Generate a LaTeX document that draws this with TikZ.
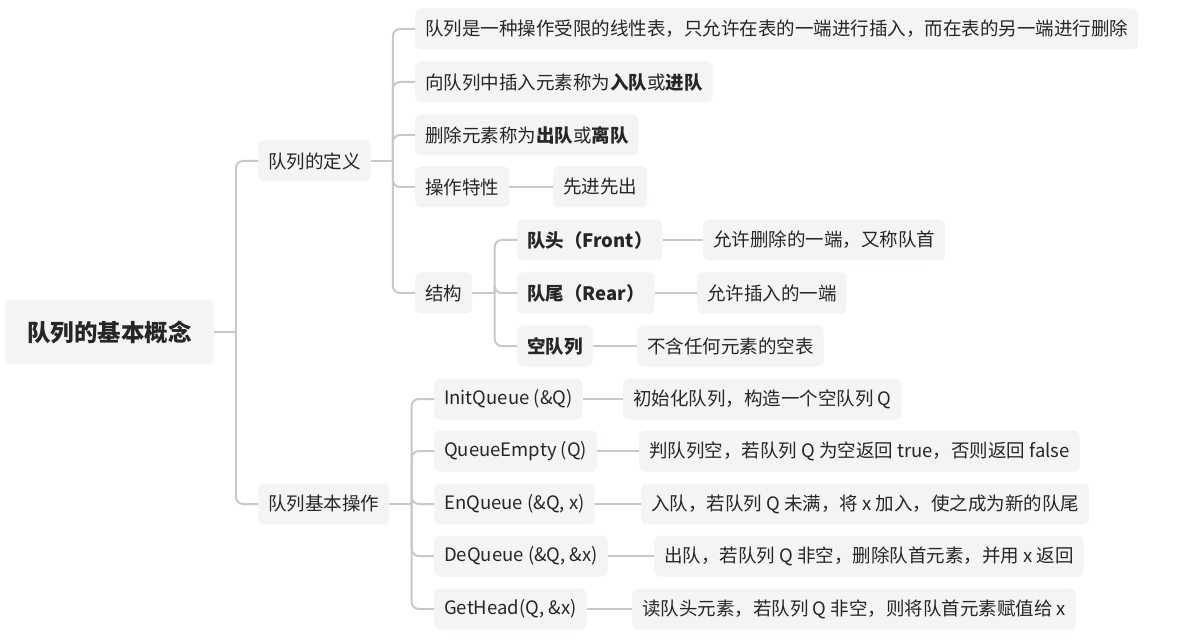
\documentclass[tikz,border=0pt]{standalone}
\usepackage{fontspec}
\setmainfont{Noto Sans CJK SC}
\usepackage{tikz}
\usetikzlibrary{calc}
\usetikzlibrary{positioning}

\definecolor{boxgray}{RGB}{243,244,246}
\definecolor{linegray}{RGB}{200,200,200}
\definecolor{inkgray}{RGB}{38,38,38}

\begin{document}
\begin{tikzpicture}[
			x=1pt, y=-1pt,
			every node/.style={
					fill=boxgray,
					text=inkgray,
					rounded corners=6pt,
					anchor=west,
					font=\fontsize{18.5}{20}\selectfont,
					inner xsep=10pt,
					inner ysep=0pt,
					minimum height=41pt % same height for all boxes
				},
			rootbox/.style={
					font=\fontsize{23.5}{26}\bfseries\selectfont,
					inner xsep=22pt,
					minimum height=64pt
				},
			link/.style={draw=linegray, line width=2pt, rounded corners=7pt}
		]
		\fill[white] (0,0) rectangle (1203,639);
		\useasboundingbox (0,0) rectangle (1203,639);

		\node[rootbox] (root) at (5,332) {队列的基本概念};
		\node (def) at (258,161) {队列的定义};
		\node (ops) at (258,504) {队列基本操作};

		% definition branch
		\node (d1) at (415,29) {队列是一种操作受限的线性表，只允许在表的一端进行插入，而在表的另一端进行删除};
		\node (d2) at (415,82) {向队列中插入元素称为\textbf{入队}或\textbf{进队}};
		\node (d3) at (415,135) {删除元素称为\textbf{出队}或\textbf{离队}};
		\node (d4) at (415,187) {操作特性};
		\node (fifo) at (553,187) {先进先出};
		\node (st) at (415,293) {结构};

		\node (front) at (517,240) {\textbf{队头（Front）}};
		\node (rear) at (517,293) {\textbf{队尾（Rear）}};
		\node (empty) at (517,346) {\textbf{空队列}};
		\node (frontd) at (703,240) {允许删除的一端，又称队首};
		\node (reard) at (697,293) {允许插入的一端};
		\node (emptyd) at (637,346) {不含任何元素的空表};

		% operations branch
		\node (o1) at (434,399) {InitQueue (\&Q)};
		\node (o2) at (434,451) {QueueEmpty (Q)};
		\node (o3) at (434,504) {EnQueue (\&Q, x)};
		\node (o4) at (434,556) {DeQueue (\&Q, \&x)};
		\node (o5) at (434,609) {GetHead(Q, \&x)};
		\node (o1d) at (623,399) {初始化队列，构造一个空队列 Q};
		\node (o2d) at (639,451) {判队列空，若队列 Q 为空返回 true，否则返回 false};
		\node (o3d) at (641,504) {入队，若队列 Q 未满，将 x 加入，使之成为新的队尾};
		\node (o4d) at (654,556) {出队，若队列 Q 非空，删除队首元素，并用 x 返回};
		\node (o5d) at (632,609) {读队头元素，若队列 Q 非空，则将队首元素赋值给 x};

		% junctions
		\coordinate (rootj) at ($(root.east)!.5!(root.east -| def.west)$);
		\coordinate (defj) at ($(def.east)!.5!(def.east -| d1.west)$);
		\coordinate (stj) at ($(st.east)!.5!(st.east -| front.west)$);
		\coordinate (opsj) at ($(ops.east)!.5!(ops.east -| o1.west)$);

		\draw[link] (root.east) -- (rootj);
		\foreach \c in {def,ops} \draw[link] (rootj) |- (\c.west);

		\draw[link] (def.east) -- (defj);
		\foreach \c in {d1,d2,d3,d4,st} \draw[link] (defj) |- (\c.west);

		\draw[link] (st.east) -- (stj);
		\foreach \c in {front,rear,empty} \draw[link] (stj) |- (\c.west);

		\draw[link] (ops.east) -- (opsj);
		\foreach \c in {o1,o2,o3,o4,o5} \draw[link] (opsj) |- (\c.west);

		% leaves
		\draw[link] (d4.east) -- (fifo.west);
		\draw[link] (front.east) -- (frontd.west);
		\draw[link] (rear.east) -- (reard.west);
		\draw[link] (empty.east) -- (emptyd.west);
		\foreach \c in {o1,o2,o3,o4,o5} \draw[link] (\c.east) -- (\c d.west);

	\end{tikzpicture}
\end{document}
